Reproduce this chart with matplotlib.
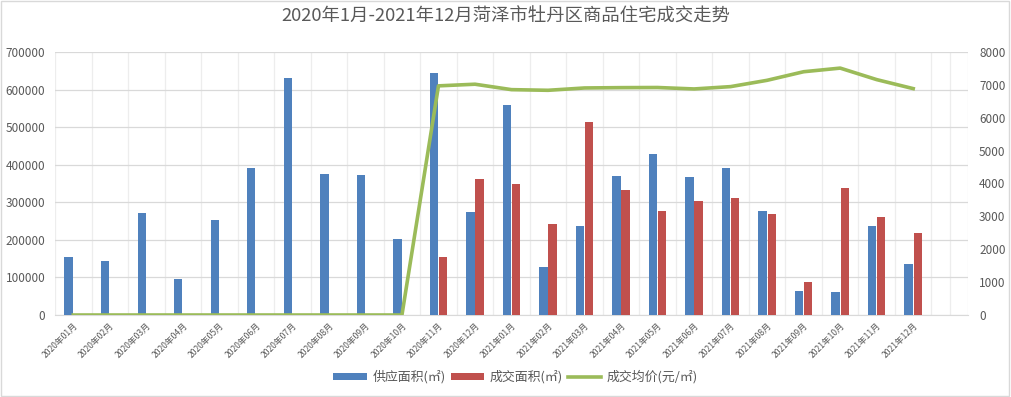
import numpy as np
import matplotlib.pyplot as plt
from matplotlib.patches import Rectangle

plt.rcParams['font.family'] = ['Noto Sans CJK SC', 'DejaVu Sans']

# data
months = ['2020年01月', '2020年02月', '2020年03月', '2020年04月', '2020年05月', '2020年06月',
          '2020年07月', '2020年08月', '2020年09月', '2020年10月', '2020年11月', '2020年12月',
          '2021年01月', '2021年02月', '2021年03月', '2021年04月', '2021年05月', '2021年06月',
          '2021年07月', '2021年08月', '2021年09月', '2021年10月', '2021年11月', '2021年12月']
supply = [155000, 143500, 271000, 96500, 252000, 391000, 630000, 375000, 372000, 202000,
          643000, 274000, 558000, 127500, 236500, 369000, 428000, 367000, 391000, 276000,
          64000, 61000, 236500, 135500]
deal = [0, 0, 0, 0, 0, 0, 0, 0, 0, 0,
        154000, 361000, 348000, 242000, 513000, 332000, 276000, 303000, 311000, 268000,
        88000, 337000, 260000, 218000]
price = [0, 0, 0, 0, 0, 0, 0, 0, 0, 0,
         6970, 7020, 6855, 6835, 6906, 6916, 6920, 6876, 6947, 7139,
         7400, 7510, 7160, 6886]

blue = '#4F81BD'
red = '#C0504D'
green = '#9BBB59'
txt = '#595959'

fig = plt.figure(figsize=(10.11, 3.97), dpi=100)
ax = fig.add_axes([55/1011, 82/397, 913/1011, 263/397])
ax2 = ax.twinx()

x = np.arange(len(months))
w = 0.23
ax.bar(x - 0.125, supply, width=w, color=blue, label='供应面积(㎡)', zorder=3)
ax.bar(x + 0.125, deal, width=w, color=red, label='成交面积(㎡)', zorder=3)
ax2.plot(x, price, color=green, lw=2.6, label='成交均价(元/㎡)', zorder=3)

# one empty slot after the last month, as in the original
ax.set_xlim(-0.5, len(months) + 0.5)
ax.set_ylim(0, 700000)
ax2.set_ylim(0, 8000)
ax.set_yticks(np.arange(0, 700001, 100000))
ax2.set_yticks(np.arange(0, 8001, 1000))

ax.set_xticks(x)
ax.set_xticklabels(months, rotation=45, ha='right', rotation_mode='anchor',
                   fontsize=6.2, color=txt)
ax.set_xticks(np.arange(-0.5, len(months) + 1, 0.5), minor=True)
ax.tick_params(axis='x', which='both', length=0, pad=4)
ax.tick_params(axis='y', length=0, labelsize=8.5, labelcolor=txt, pad=7)
ax2.tick_params(axis='y', length=0, labelsize=8.5, labelcolor=txt, pad=8)

ax.grid(axis='y', color='#D9D9D9', lw=0.9, zorder=0)
ax.grid(axis='x', which='minor', color='#EDEDED', lw=0.9, zorder=0)
ax.set_axisbelow(True)

for a in (ax, ax2):
    for s in a.spines.values():
        s.set_visible(False)
ax.spines['bottom'].set_visible(True)
ax.spines['bottom'].set_color('#D9D9D9')

fig.suptitle('2020年1月-2021年12月菏泽市牡丹区商品住宅成交走势', x=0.5, y=0.98,
             fontsize=13.2, color=txt)

h1, l1 = ax.get_legend_handles_labels()
h2, l2 = ax2.get_legend_handles_labels()
fig.legend(h1 + h2, l1 + l2, loc='center', bbox_to_anchor=(0.51, 0.05), ncol=3,
           frameon=False, fontsize=9.3, labelcolor=txt, handlelength=2.6,
           handleheight=0.5, columnspacing=0.4, handletextpad=0.4)

fig.patches.append(Rectangle((0.001, 0.002), 0.997, 0.995, transform=fig.transFigure,
                             fill=False, edgecolor='#D9D9D9', lw=1))

fig.savefig('out.png', dpi=100)
